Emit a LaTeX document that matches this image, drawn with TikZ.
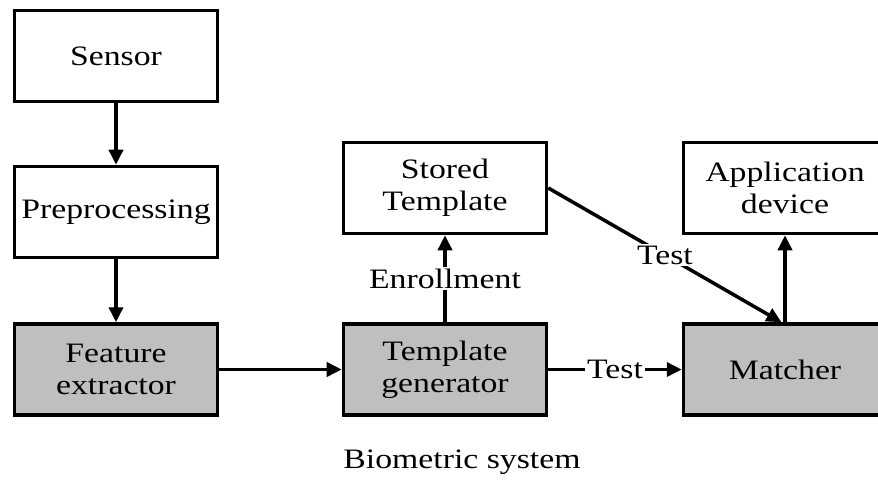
\documentclass[tikz,border=0pt]{standalone}
\usepackage{fontspec}
\setmainfont{Liberation Serif}[FakeStretch=1.2]
\usepackage{tikz}
\usetikzlibrary{arrows.meta, positioning}
\colorlet{lightgray}{black!25}
\tikzset{
    block/.style={draw, line width=2pt, minimum width=4.06cm, minimum height=1.82cm,
        align=center, font=\fontsize{16}{18}\selectfont},
    shaded/.style={block, fill=lightgray},
    link/.style={line width=2pt, -{Triangle[length=0.3cm,width=0.28cm]}},
    tag/.style={fill=white, inner sep=1pt, font=\fontsize{16}{18}\selectfont}
}
\begin{document}
\begin{tikzpicture}
        \useasboundingbox (0,0) rectangle (17.56,-9.58);
        % left column
        \node[block] (sensor) at (2.32,-1.12) {Sensor};
        \node[block] (prep) at (2.32,-4.24) {Preprocessing};
        \node[shaded] (feat) at (2.32,-7.39) {Feature\\extractor};
        % middle column
        \node[shaded] (tgen) at (8.9,-7.39) {Template\\generator};
        \node[block] (stored) at (8.9,-3.76) {Stored\\Template};
        % right column
        \node[shaded] (match) at (15.7,-7.39) {Matcher};
        \node[block] (app) at (15.7,-3.76) {Application\\device};

        \node[font=\fontsize{16}{18}\selectfont] (caption) at (9.24,-9.24) {Biometric system};

        \draw[link] (sensor) -- (prep);
        \draw[link] (prep) -- (feat);
        \draw[link] (feat) -- (tgen);
        \draw[link] (tgen) -- node[tag] {Enrollment} (stored);
        \draw[link] (tgen) -- node[tag] {Test} (match);
        \draw[link] (stored.east) -- node[tag] {Test} ([xshift=-2pt]match.north);
        \draw[link] (match) -- (app);
      \end{tikzpicture}
\end{document}
